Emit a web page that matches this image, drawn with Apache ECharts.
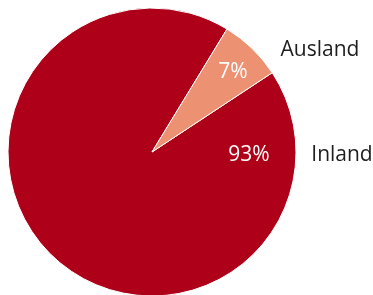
<!DOCTYPE html>
<html>
<head>
<meta charset="utf-8">
<script src="https://cdn.jsdelivr.net/npm/echarts@6/dist/echarts.min.js"></script>
<style>
  html, body { margin: 0; padding: 0; background: #fff; }
  #chart { width: 373px; height: 295px; }
</style>
</head>
<body>
<div id="chart"></div>
<script>
// Daten
const categories = ['Inland', 'Ausland']
const values = [93, 7]
const colors = ['#AE0019', '#EC9171']

// Lage der Beschriftungen relativ zur Kreismitte (Pixel)
const cx = 152, cy = 152
const pctSpots = [[97, 3], [81, -80]]
const nameSpots = [[190, 3], [168, -102]]

const chart = echarts.init(document.getElementById('chart'))
const data = categories.map((name, i) => ({ name: name, value: values[i], itemStyle: { color: colors[i] } }))

chart.setOption({
  animation: false,
  series: [{
    type: 'pie',
    center: [cx, cy],
    radius: 144,
    startAngle: 33.4,
    clockwise: true,
    data: data,
    itemStyle: { borderColor: '#fff', borderWidth: 1 },
    label: {
      position: 'inside',
      formatter: '{c}%',
      color: '#fff',
      fontFamily: 'Open Sans',
      fontSize: 21
    },
    labelLine: { show: false },
    labelLayout: function (p) {
      const s = pctSpots[p.dataIndex]
      return { x: cx + s[0], y: cy + s[1], align: 'center', verticalAlign: 'middle' }
    },
    emphasis: { disabled: true }
  }, {
    type: 'pie',
    center: [cx, cy],
    radius: 144,
    startAngle: 33.4,
    silent: true,
    data: categories.map((name, i) => ({ name: name, value: values[i] })),
    itemStyle: { color: 'transparent' },
    label: {
      position: 'inside',
      formatter: '{b}',
      color: '#1e1e1e',
      fontFamily: 'Open Sans',
      fontSize: 21
    },
    labelLine: { show: false },
    labelLayout: function (p) {
      const s = nameSpots[p.dataIndex]
      return { x: cx + s[0], y: cy + s[1], align: 'center', verticalAlign: 'middle' }
    }
  }]
})
</script>
</body>
</html>
